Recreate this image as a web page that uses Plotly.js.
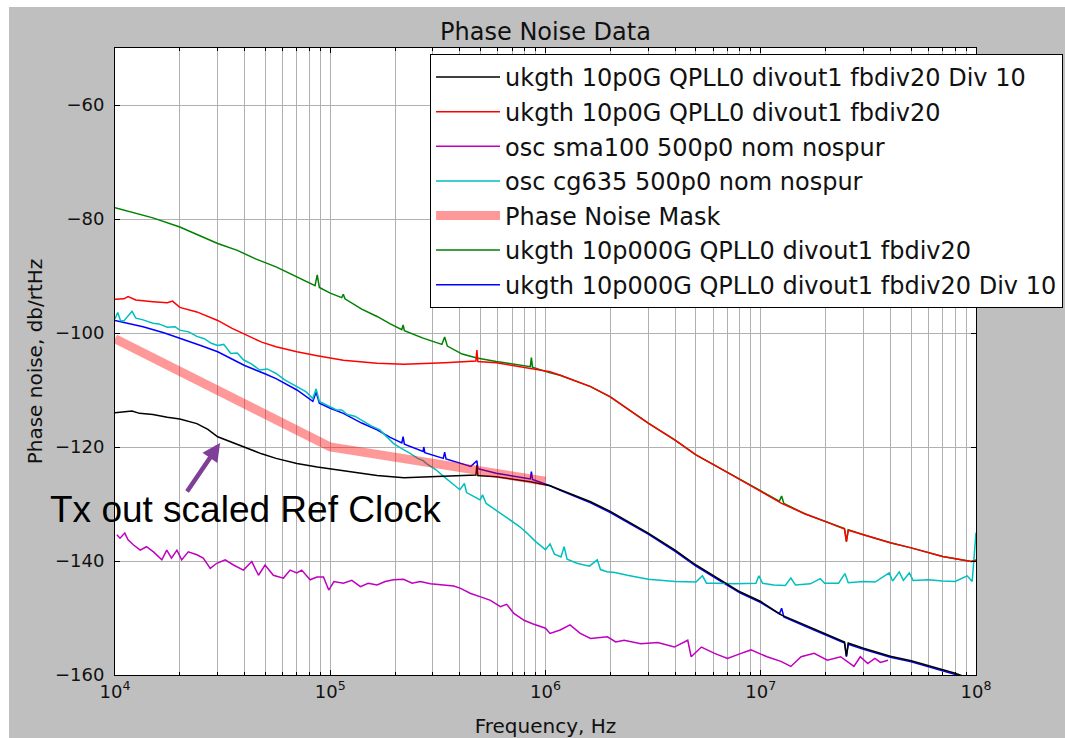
<!DOCTYPE html>
<html>
<head>
<meta charset="utf-8">
<script src="https://cdn.plot.ly/plotly-3.0.1.min.js"></script>
<style>
  html, body { margin: 0; padding: 0; background: #ffffff; }
  #chart { position: absolute; left: 9px; top: 7px; width: 1056px; height: 731px; }
</style>
</head>
<body>
<div id="chart"></div>
<script>
// ---------------- data ----------------
const blackF = [1e4,1.1e4,1.2e4,1.3e4,1.5e4,1.75e4,2e4,2.4e4,2.7e4,3e4,3.5e4,4e4,4.8e4,5.6e4,7e4,8.7e4,1.15e5,1.65e5,2.2e5,3.4e5,4.5e5,4.75e5,4.8e5,4.85e5,5.9e5,8.5e5,1.05e6,1.17e6,1.62e6,2e6,3e6,4e6,5e6,6.3e6,8e6,1e7,1.25e7,1.6e7,2e7,2.45e7,2.5e7,2.55e7,3e7,4e7,5e7,7e7,8e7,1e8];
const blackV = [-114.0,-113.9,-113.7,-114.1,-114.3,-114.8,-115.1,-115.9,-116.9,-118.2,-119.2,-120.0,-121.2,-122.0,-122.9,-123.5,-124.1,-125.0,-125.4,-125.1,-124.9,-124.9,-123.2,-125.0,-125.2,-126.1,-126.8,-127.5,-129.6,-131.3,-135.1,-138.1,-140.7,-143.0,-145.4,-147.1,-149.5,-151.2,-152.7,-154.2,-156.7,-154.4,-155.3,-156.7,-157.5,-159.1,-159.7,-161.0];

const redF = [1e4,1.1e4,1.15e4,1.25e4,1.5e4,1.75e4,1.85e4,2e4,2.4e4,3e4,3.5e4,4e4,4.8e4,5.6e4,7e4,8.7e4,1.15e5,1.65e5,2.2e5,3.4e5,4.5e5,4.75e5,4.8e5,4.85e5,5.9e5,8.5e5,1.05e6,1.17e6,1.62e6,2e6,3e6,4e6,5e6,6.3e6,8e6,1e7,1.25e7,1.6e7,2e7,2.45e7,2.5e7,2.55e7,3e7,4e7,5e7,7e7,9.5e7,1e8];
const redV = [-94.1,-94.0,-93.6,-94.2,-94.5,-94.7,-94.4,-95.5,-96.3,-97.8,-99.2,-100.2,-101.6,-102.4,-103.3,-104.0,-104.8,-105.3,-105.5,-105.2,-104.9,-104.9,-103.0,-105.0,-105.2,-106.2,-106.8,-107.4,-109.4,-111.2,-115.8,-118.8,-121.4,-123.5,-125.8,-127.8,-129.9,-131.7,-133.1,-134.4,-136.6,-134.6,-135.4,-136.8,-137.7,-139.2,-140.1,-139.9];

const magentaF = [1.02e4,1.055e4,1.11e4,1.15e4,1.22e4,1.31e4,1.40e4,1.51e4,1.65e4,1.74e4,1.83e4,1.94e4,2.04e4,2.19e4,2.40e4,2.57e4,2.77e4,2.97e4,3.25e4,3.55e4,3.95e4,4.32e4,4.64e4,4.98e4,5.44e4,6.06e4,6.51e4,6.99e4,7.37e4,8.06e4,8.67e4,9.3e4,9.84e4,1.04e5,1.15e5,1.26e5,1.38e5,1.5e5,1.65e5,1.80e5,1.97e5,2.19e5,2.40e5,2.62e5,2.92e5,3.37e5,3.75e5,4.03e5,4.49e5,5.0e5,5.55e5,6.17e5,6.6e5,7.13e5,7.95e5,8.7e5,9.5e5,1.0e6,1.05e6,1.17e6,1.30e6,1.45e6,1.62e6,1.94e6,2.12e6,2.32e6,2.77e6,3.32e6,3.97e6,4.58e6,4.75e6,5.3e6,6.1e6,7.0e6,8.1e6,9.0e6,1.07e7,1.24e7,1.38e7,1.54e7,1.77e7,2.04e7,2.35e7,2.71e7,2.9e7,3.14e7,3.39e7,3.6e7,3.9e7];
const magentaV = [-135.4,-136.0,-135.1,-136.3,-137.2,-138.1,-137.5,-138.4,-139.8,-138.1,-139.5,-138.1,-139.8,-138.4,-138.9,-139.5,-141.3,-140.4,-139.8,-140.7,-141.6,-140.1,-142.5,-140.7,-142.5,-143.0,-141.6,-142.1,-141.6,-143.3,-142.8,-142.8,-145.1,-143.6,-143.9,-143.4,-144.5,-143.9,-144.2,-143.6,-143.3,-143.2,-143.9,-143.6,-144.0,-144.2,-144.4,-144.8,-145.7,-146.3,-146.9,-148.0,-147.6,-149.2,-150.4,-151.0,-151.5,-151.8,-152.7,-152.1,-151.2,-152.7,-153.6,-153.3,-154.2,-153.9,-154.5,-154.3,-155.1,-153.9,-156.8,-155.1,-156.2,-157.1,-156.2,-155.6,-156.8,-157.6,-158.5,-156.8,-156.2,-157.4,-156.8,-158.5,-156.8,-158.0,-157.1,-157.8,-157.4];

const cyanF = [1e4,1.03e4,1.06e4,1.1e4,1.15e4,1.2e4,1.25e4,1.35e4,1.5e4,1.6e4,1.75e4,1.9e4,2e4,2.2e4,2.4e4,2.6e4,2.8e4,3.0e4,3.2e4,3.45e4,3.7e4,3.95e4,4.3e4,4.7e4,5.1e4,5.6e4,6.2e4,7e4,7.7e4,8.3e4,8.6e4,8.9e4,9.6e4,1.07e5,1.13e5,1.2e5,1.3e5,1.42e5,1.55e5,1.7e5,1.97e5,2.15e5,2.35e5,2.55e5,2.7e5,2.8e5,3.1e5,3.37e5,3.6e5,3.8e5,4.0e5,4.2e5,4.3e5,4.6e5,4.97e5,5.1e5,5.3e5,5.9e5,6.9e5,7.6e5,8.2e5,9e5,1e6,1.05e6,1.1e6,1.18e6,1.22e6,1.26e6,1.4e6,1.6e6,1.74e6,1.8e6,1.93e6,2.1e6,2.4e6,3e6,4e6,5e6,5.36e6,5.6e6,6.3e6,7.5e6,9.5e6,9.8e6,1.02e7,1.15e7,1.3e7,1.38e7,1.45e7,1.7e7,1.89e7,1.98e7,2.3e7,2.46e7,2.55e7,3e7,3.4e7,3.95e7,4.1e7,4.4e7,4.6e7,4.9e7,5.1e7,6e7,7e7,8e7,9.1e7,9.6e7,1e8];
const cyanV = [-97.5,-96.4,-97.8,-97.9,-97.0,-96.2,-97.4,-97.7,-98.3,-98.4,-99.0,-98.9,-99.5,-99.8,-100.6,-101.0,-101.8,-102.2,-102.0,-103.6,-103.5,-104.7,-105.4,-106.5,-106.3,-107.1,-108.3,-109.4,-110.3,-111.5,-109.8,-112.0,-112.6,-113.5,-113.5,-114.3,-114.6,-115.5,-116.3,-117.0,-119.4,-120.3,-121.1,-122.0,-122.4,-122.9,-124.0,-125.2,-126.0,-126.8,-127.5,-126.4,-128.0,-128.6,-129.3,-128.4,-129.9,-131.1,-132.8,-134.0,-135.1,-136.6,-138.0,-137.0,-138.8,-139.3,-137.5,-139.7,-140.4,-140.9,-139.8,-141.5,-141.9,-142.0,-142.5,-143.2,-143.6,-143.7,-142.6,-143.9,-143.9,-144.0,-143.9,-142.6,-143.9,-144.2,-144.3,-143.0,-144.2,-144.0,-143.1,-143.9,-143.9,-142.2,-143.8,-143.6,-143.7,-142.1,-143.5,-141.9,-143.4,-142.1,-143.4,-143.3,-143.5,-143.6,-142.6,-143.6,-135.0];

const maskF = [1e4,1e5,1e6];
const maskV = [-101,-120,-126];

const greenF = [1e4,1.2e4,1.5e4,2e4,2.5e4,3e4,3.7e4,4.5e4,5.6e4,6.5e4,7.5e4,8.5e4,8.7e4,8.9e4,1e5,1.13e5,1.15e5,1.17e5,1.4e5,1.65e5,1.9e5,2.15e5,2.18e5,2.21e5,2.7e5,3.3e5,3.4e5,3.5e5,4.1e5,4.8e5,5.9e5,7e5,8.5e5,8.6e5,8.7e5,1.05e6,1.17e6,1.62e6,2e6,3e6,4e6,5e6,6.3e6,8e6,1e7,1.22e7,1.25e7,1.28e7,1.6e7,2e7,2.45e7,2.5e7,2.55e7,3e7,4e7,5e7,7e7,9.5e7,1e8];
const greenV = [-78.0,-78.8,-79.8,-81.4,-83.0,-84.3,-85.5,-87.0,-88.4,-89.6,-90.8,-91.7,-89.8,-92.0,-93.0,-93.8,-93.2,-94.0,-95.8,-97.1,-98.4,-99.4,-98.6,-99.6,-100.9,-102.0,-100.7,-102.3,-103.7,-104.4,-105.0,-105.4,-105.9,-104.3,-106.0,-107.0,-107.4,-109.4,-111.2,-115.8,-118.8,-121.4,-123.5,-125.8,-127.8,-129.5,-128.6,-129.9,-131.7,-133.1,-134.3,-136.6,-134.5,-135.4,-136.8,-137.7,-139.2,-140.1,-139.8];

const blueF = [1e4,1.35e4,1.7e4,2e4,2.5e4,3e4,3.5e4,4e4,5e4,5.6e4,7e4,8.3e4,8.6e4,8.9e4,1e5,1.15e5,1.4e5,1.65e5,1.9e5,2.15e5,2.18e5,2.21e5,2.7e5,2.72e5,2.75e5,3.35e5,3.4e5,3.45e5,4.5e5,4.8e5,4.85e5,5.9e5,8.5e5,8.6e5,8.7e5,1.05e6,1.17e6,1.62e6,2e6,3e6,4e6,5e6,6.3e6,8e6,1e7,1.22e7,1.25e7,1.28e7,1.6e7,2e7,2.45e7,2.5e7,2.55e7,3e7,4e7,5e7,7e7,8e7,1e8];
const blueV = [-97.8,-98.9,-100.0,-100.9,-102.2,-103.3,-104.6,-105.7,-107.2,-108.0,-110.0,-112.0,-110.4,-112.3,-113.2,-114.1,-115.8,-117.0,-118.3,-119.3,-118.2,-119.5,-120.8,-120.0,-121.0,-122.0,-120.9,-122.1,-123.4,-122.4,-123.8,-124.6,-125.6,-124.3,-125.7,-126.8,-127.6,-129.8,-131.5,-135.3,-138.3,-140.9,-143.2,-145.6,-147.3,-149.3,-148.3,-149.8,-151.4,-152.9,-154.4,-156.8,-154.6,-155.5,-156.9,-157.7,-159.3,-159.9,-161.2];

const yTicks = [-160,-140,-120,-100,-80,-60];
const xTicks = [1e4,1e5,1e6,1e7,1e8];
const xTickText = ['10<sup>4</sup>','10<sup>5</sup>','10<sup>6</sup>','10<sup>7</sup>','10<sup>8</sup>'];

const names = [
  'ukgth 10p0G QPLL0 divout1 fbdiv20 Div 10',
  'ukgth 10p0G QPLL0 divout1 fbdiv20',
  'osc sma100 500p0 nom nospur',
  'osc cg635 500p0 nom nospur',
  'Phase Noise Mask',
  'ukgth 10p000G QPLL0 divout1 fbdiv20',
  'ukgth 10p000G QPLL0 divout1 fbdiv20 Div 10'
];

// ---------------- traces ----------------
function tr(x, y, name, color, width, rank) {
  return {x: x, y: y, name: name, type: 'scatter', mode: 'lines',
          line: {color: color, width: width}, legendrank: rank,
          legendgroup: 'g' + rank, hoverinfo: 'skip'};
}
const LW = 1.5;
const traces = [
  tr(greenF, greenV, names[5], '#008000', LW, 6),
  tr(blueF, blueV, names[6], '#0000ff', LW, 7),
  tr(magentaF, magentaV, names[2], '#bf00bf', LW, 3),
  tr(cyanF, cyanV, names[3], '#00bfbf', LW, 4),
  tr(blackF, blackV, names[0], '#000000', LW, 1),
  tr(redF, redV, names[1], '#ff0000', LW, 2),
  tr(maskF, maskV, names[4], 'rgba(255,0,0,0.4)', 9, 5)
];

// minor gridline positions (2..9 per decade)
const minorVals = [];
for (let d = 4; d < 8; d++) for (let m = 2; m <= 9; m++) minorVals.push(m * Math.pow(10, d));

const font = 'DejaVu Sans, sans-serif';
const layout = {
  width: 1056, height: 731,
  paper_bgcolor: '#bfbfbf', plot_bgcolor: '#ffffff',
  margin: {l: 106, r: 89, t: 41, b: 63, autoexpand: false},
  font: {family: font, color: '#000000', size: 18},
  title: {text: 'Phase Noise Data', font: {family: font, size: 24, color: '#111111'},
          x: 0.5, xref: 'paper', y: 1 - 25/731, yref: 'container', yanchor: 'middle'},
  showlegend: true,
  legend: {x: 0.3659, y: (675 - 54) / 627, xanchor: 'left', yanchor: 'top',
           bgcolor: '#ffffff', bordercolor: '#000000', borderwidth: 1,
           font: {family: font, size: 24, color: '#111111'},
           traceorder: 'grouped', tracegroupgap: 0.4, itemwidth: 64},
  xaxis: {type: 'log', range: [4, 8], tickvals: xTicks, ticktext: xTickText,
          showline: true, linecolor: '#000000', linewidth: 1, mirror: 'ticks',
          ticks: 'inside', ticklen: 5, tickcolor: '#000000',
          showgrid: true, gridcolor: '#b0b0b0', gridwidth: 1, zeroline: false,
          tickfont: {family: font, size: 18, color: '#111111'},
          minor: {tickvals: minorVals, showgrid: true, gridcolor: '#b0b0b0', gridwidth: 1,
                  ticks: 'inside', ticklen: 3, tickcolor: '#000000'},
          title: {text: 'Frequency, Hz', font: {family: font, size: 20, color: '#111111'}, standoff: 18}},
  yaxis: {range: [-160, -50], tickvals: yTicks,
          showline: true, linecolor: '#000000', linewidth: 1, mirror: 'ticks',
          ticks: 'inside', ticklen: 5, tickcolor: '#000000',
          showgrid: true, gridcolor: '#b0b0b0', gridwidth: 1, zeroline: false,
          tickfont: {family: font, size: 18, color: '#111111'}, ticklabelstandoff: 6,
          title: {text: 'Phase noise, db/rtHz', font: {family: font, size: 20, color: '#111111'}, standoff: 6}},
  annotations: [
    {xref: 'paper', yref: 'paper', x: (48 - 115) / 861, y: (675 - 509) / 627,
     xanchor: 'left', yanchor: 'middle', showarrow: false,
     text: 'Tx out scaled Ref Clock',
     font: {family: 'Liberation Sans, Arial, sans-serif', size: 37, color: '#000000'}},
    {xref: 'x', yref: 'y', x: Math.log10(30770), y: -119.3, text: '',
     showarrow: true, arrowhead: 2, arrowsize: 0.8, arrowwidth: 4.5, arrowcolor: '#7f3f98',
     ax: -34, ay: 50, standoff: 0}
  ]
};

Plotly.newPlot('chart', traces, layout, {displayModeBar: false, staticPlot: true});
</script>
</body>
</html>
